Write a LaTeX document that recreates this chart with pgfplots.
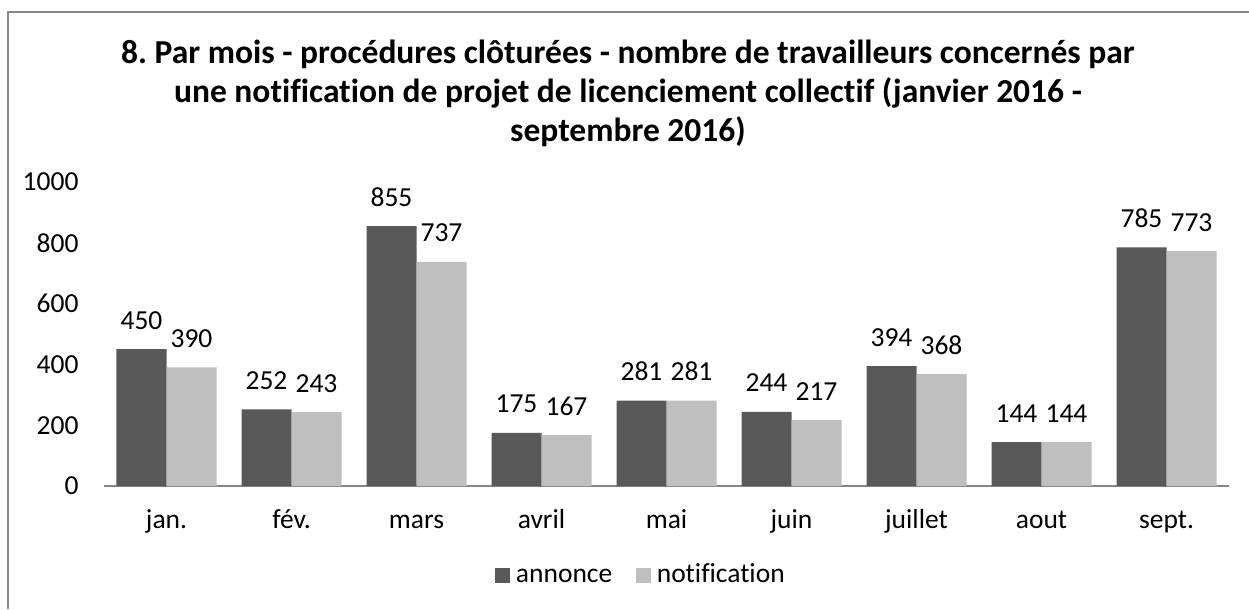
\documentclass[border=0pt]{standalone}
\usepackage{fontspec}
\setmainfont{Carlito}[Ligatures=NoCommon]
\usepackage{pgfplots}
\pgfplotsset{compat=1.18}
\definecolor{dark}{HTML}{595959}
\definecolor{light}{HTML}{BFBFBF}
\definecolor{framec}{HTML}{868686}
\frenchspacing
\begin{document}
\begin{tikzpicture}
\useasboundingbox (0,0) rectangle (499.6pt,-243.6pt);
\draw[framec, line width=0.6pt] (3.2pt,-243.6pt) -- (3.2pt,-4.8pt) -- (499.6pt,-4.8pt);
\tikzset{ttl/.style={anchor=base, inner sep=0pt, font=\fontsize{13.4}{15.6}\selectfont\bfseries}}
\node[ttl] at (251.2pt,-25.2pt) {8. Par mois - procédures clôturées - nombre de travailleurs concernés par};
\node[ttl] at (251.2pt,-40.8pt) {une notification de projet de licenciement collectif (janvier 2016 -};
\node[ttl] at (251.2pt,-56.4pt) {septembre 2016)};
\begin{axis}[
  at={(41.6pt,-194.4pt)}, anchor=south west,
  scale only axis, width=450pt, height=121.6pt,
  xmin=-0.5, xmax=8.5, ymin=0, ymax=1000,
  ybar=0pt, bar width=20pt,
  legend image code/.code={\fill[#1] (0pt,-3pt) rectangle (6pt,3pt);},
  xtick={0,...,8},
  xticklabels={jan.,fév.,mars,avril,mai,juin,juillet,aout,sept.},
  ytick={0,200,...,1000},
  axis lines*=left,
  x axis line style={-, draw=framec, line width=0.8pt},
  y axis line style={draw=none},
  major tick length=0pt,
  tick style={draw=none},
  /pgf/number format/assume math mode=true,
  /pgf/number format/1000 sep={},
  every tick label/.append style={font=\fontsize{11}{13}\selectfont},
  yticklabel style={anchor=east, inner sep=0pt, xshift=-10pt},
  xticklabel style={anchor=base, inner sep=0pt, yshift=-16.8pt},
  nodes near coords,
  nodes near coords style={anchor=base, inner sep=0pt, yshift=8pt, font=\fontsize{11}{13}\selectfont, text=black},
  clip=false,
  legend columns=2,
  legend cell align=left,
  legend style={at={(0.4790,-0.296)}, anchor=center, draw=none, fill=none,
    font=\fontsize{11}{13}\selectfont,
    nodes={inner xsep=2.4pt, inner ysep=0pt, text height=7.5pt, text depth=2pt},
    /tikz/every even column/.append style={column sep=7pt}},
]
\addplot[fill=dark, draw=none] coordinates {(0,450) (1,252) (2,855) (3,175) (4,281) (5,244) (6,394) (7,144) (8,785)};
\addlegendentry{annonce}
\addplot[fill=light, draw=none] coordinates {(0,390) (1,243) (2,737) (3,167) (4,281) (5,217) (6,368) (7,144) (8,773)};
\addlegendentry{notification}
\end{axis}
\end{tikzpicture}
\end{document}
